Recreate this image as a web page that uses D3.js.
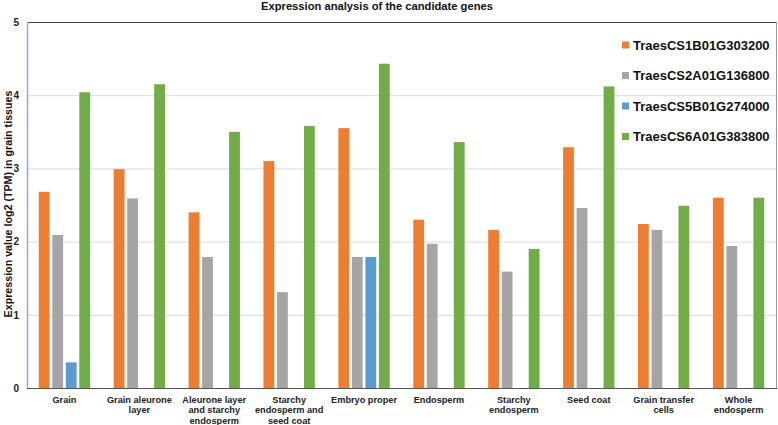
<!DOCTYPE html>
<html>
<head>
<meta charset="utf-8">
<script src="https://cdn.jsdelivr.net/npm/d3@7"></script>
<style>
  html, body { margin: 0; padding: 0; background: #fff; }
  svg { display: block; font-family: "Liberation Sans", Arial, sans-serif; }
</style>
</head>
<body>
<svg id="chart" width="778" height="425"></svg>
<script>
const categories = [
  ["Grain"],
  ["Grain aleurone", "layer"],
  ["Aleurone layer", "and starchy", "endosperm"],
  ["Starchy", "endosperm and", "seed coat"],
  ["Embryo proper"],
  ["Endosperm"],
  ["Starchy", "endosperm"],
  ["Seed coat"],
  ["Grain transfer", "cells"],
  ["Whole", "endosperm"]
];
const seriesNames = ["TraesCS1B01G303200", "TraesCS2A01G136800", "TraesCS5B01G274000", "TraesCS6A01G383800"];
const seriesColors = ["#ED7D31", "#A5A5A5", "#5B9BD5", "#70AD47"];
const s1B = [2.68, 2.99, 2.40, 3.10, 3.55, 2.30, 2.16, 3.29, 2.24, 2.60];
const s2A = [2.09, 2.59, 1.79, 1.31, 1.79, 1.97, 1.59, 2.46, 2.16, 1.94];
const s5B = [0.35, null, null, null, 1.79, null, null, null, null, null];
const s6A = [4.04, 4.15, 3.50, 3.58, 4.43, 3.36, 1.90, 4.12, 2.49, 2.60];
const yTicks = [0, 1, 2, 3, 4, 5];
const title = "Expression analysis of the candidate genes";
const yTitle = "Expression value log2 (TPM) in grain tissues";

const seriesValues = [s1B, s2A, s5B, s6A];
const svg = d3.select("#chart");
const pLeft = 27, pRight = 776, pTop = 22, pBottom = 388;

const x0 = d3.scaleBand().domain(d3.range(categories.length))
  .range([pLeft, pRight]).paddingInner(0.315).paddingOuter(0.1575);
const x1 = d3.scaleBand().domain(d3.range(seriesNames.length))
  .range([0, x0.bandwidth()]).paddingInner(0.2).paddingOuter(0);
const y = d3.scaleLinear().domain([0, 5]).range([pBottom, pTop]);

// gridlines
svg.append("g").selectAll("line").data(yTicks.filter(t => t > 0 && t < 5)).join("line")
  .attr("x1", pLeft).attr("x2", pRight)
  .attr("y1", d => y(d) + 0.5).attr("y2", d => y(d) + 0.5)
  .attr("stroke", "#d9d9d9").attr("stroke-width", 1);

// bars
const g = svg.append("g");
categories.forEach((c, i) => {
  seriesValues.forEach((vals, s) => {
    const v = vals[i];
    if (v == null) return;
    g.append("rect")
      .attr("x", x0(i) + x1(s))
      .attr("y", y(v))
      .attr("width", x1.bandwidth())
      .attr("height", y(0) - y(v))
      .attr("fill", seriesColors[s]);
  });
});

// frame
svg.append("line").attr("x1", pLeft).attr("x2", pRight).attr("y1", pTop + 0.5).attr("y2", pTop + 0.5)
  .attr("stroke", "#444").attr("stroke-width", 1);
svg.append("line").attr("x1", pRight + 0.5).attr("x2", pRight + 0.5).attr("y1", pTop).attr("y2", pBottom)
  .attr("stroke", "#999").attr("stroke-width", 1);
svg.append("line").attr("x1", pLeft + 0.5).attr("x2", pLeft + 0.5).attr("y1", pTop).attr("y2", pBottom)
  .attr("stroke", "#8FAADC").attr("stroke-width", 1.5);
svg.append("line").attr("x1", pLeft).attr("x2", pRight + 1).attr("y1", pBottom + 0.5).attr("y2", pBottom + 0.5)
  .attr("stroke", "#555").attr("stroke-width", 1.2);

// y axis labels
const yAxis = d3.axisLeft(y).tickValues(yTicks).tickSize(0).tickPadding(8).tickFormat(d3.format("d"));
const ya = svg.append("g").attr("transform", `translate(${pLeft},0)`).call(yAxis);
ya.select(".domain").remove();
ya.selectAll("text").attr("font-size", 10).attr("font-weight", "bold").attr("fill", "#222")
  .attr("font-family", "Liberation Sans, Arial, sans-serif");

// x labels
const xl = svg.append("g");
categories.forEach((lines, i) => {
  const cx = x0(i) + x0.bandwidth() / 2;
  const t = xl.append("text")
    .attr("x", cx)
    .attr("y", 402.5)
    .attr("text-anchor", "middle")
    .attr("font-size", 9.2).attr("font-weight", "bold").attr("fill", "#222");
  lines.forEach((ln, k) => {
    t.append("tspan").attr("x", cx).attr("dy", k === 0 ? 0 : 10.6).text(ln);
  });
});

// title
svg.append("text").attr("x", 377).attr("y", 9.5).attr("text-anchor", "middle")
  .attr("font-size", 11.2).attr("font-weight", "bold").attr("fill", "#111").text(title);

// y title
svg.append("text").attr("transform", `translate(12,204) rotate(-90)`)
  .attr("text-anchor", "middle").attr("font-size", 10.7).attr("font-weight", "bold")
  .attr("fill", "#111").text(yTitle);

// legend
const lg = svg.append("g");
seriesNames.forEach((n, s) => {
  const cy = 45 + s * 30.5;
  lg.append("rect").attr("x", 622).attr("y", cy - 3.5).attr("width", 7).attr("height", 7)
    .attr("fill", seriesColors[s]);
  lg.append("text").attr("x", 633).attr("y", cy + 4.7).attr("font-size", 13)
    .attr("font-weight", "bold").attr("fill", "#111").text(n);
});
</script>
</body>
</html>
